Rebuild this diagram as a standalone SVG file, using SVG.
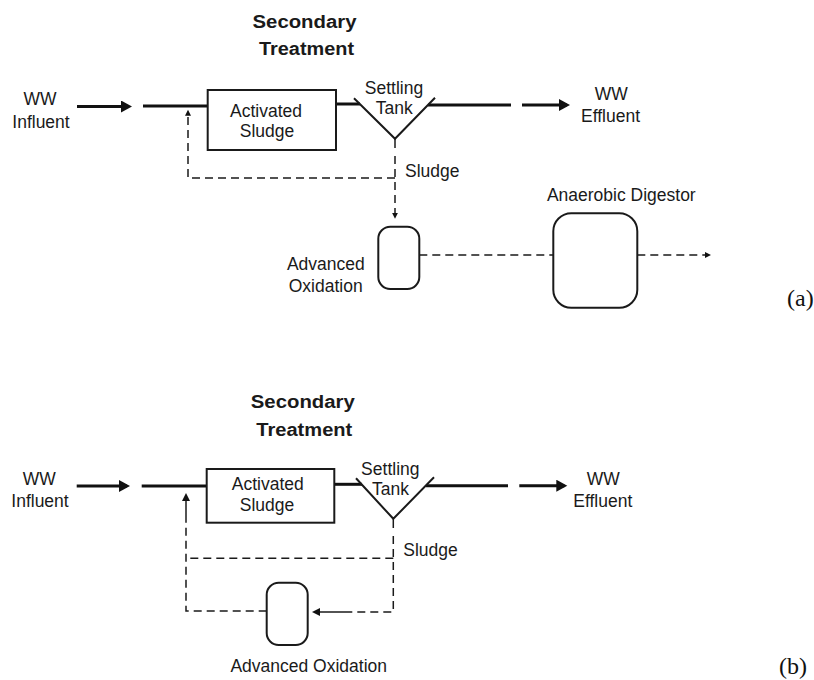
<svg xmlns="http://www.w3.org/2000/svg" width="814" height="680" viewBox="0 0 814 680">
<style>
.t{font-family:"Liberation Sans",Arial,sans-serif;font-size:17.5px;fill:#1a1a1a;text-anchor:middle}
.s{text-anchor:start}
.h{font-weight:bold;font-size:18px}
.lab{font-family:"Liberation Serif","Times New Roman",serif;font-size:24px;fill:#111}
.box{fill:#fff;stroke:#1a1a1a;stroke-width:2}
.tank{fill:none;stroke:#1a1a1a;stroke-width:2}
.thick{fill:none;stroke:#111;stroke-width:3}
.dash{fill:none;stroke:#1a1a1a;stroke-width:1.5;stroke-dasharray:8 5}
.thin{fill:none;stroke:#1a1a1a;stroke-width:1.5}
</style>
<defs>
<marker id="big" markerUnits="userSpaceOnUse" markerWidth="12" markerHeight="12" refX="8" refY="6" orient="auto"><path d="M0,0 L11,6 L0,12 z" fill="#111"/></marker>
<marker id="med" markerUnits="userSpaceOnUse" markerWidth="9" markerHeight="8" refX="6" refY="4" orient="auto"><path d="M0,0 L8,4 L0,8 z" fill="#111"/></marker>
<marker id="sm" markerUnits="userSpaceOnUse" markerWidth="7" markerHeight="6" refX="4" refY="3" orient="auto"><path d="M0,0 L6,3 L0,6 z" fill="#111"/></marker>
</defs>
<rect width="814" height="680" fill="#fff"/>

<g id="connectors">
  <!-- panel a -->
  <line class="thick" x1="77" y1="106.5" x2="129" y2="106.5" marker-end="url(#big)"/>
  <line class="thick" x1="143" y1="106" x2="208" y2="106"/>
  <line class="thick" x1="336" y1="104" x2="360" y2="104"/>
  <line class="thick" x1="428" y1="105" x2="511" y2="105"/>
  <line class="thick" x1="522" y1="105" x2="567" y2="105" marker-end="url(#big)"/>
  <line class="thin" x1="395" y1="139" x2="395" y2="148"/>
  <path class="dash" d="M395,156 V216.7" marker-end="url(#sm)"/>
  <path class="dash" d="M395,178 H188 V111.7" marker-end="url(#sm)"/>
  <line class="dash" x1="419.3" y1="255" x2="553.3" y2="255"/>
  <path class="dash" d="M637.3,255 H709" marker-end="url(#sm)"/>
  <!-- panel b -->
  <line class="thick" x1="76.7" y1="486" x2="127" y2="486" marker-end="url(#big)"/>
  <line class="thick" x1="141.7" y1="486" x2="207" y2="486"/>
  <line class="thick" x1="334.3" y1="484.3" x2="362" y2="484.3"/>
  <line class="thick" x1="426" y1="485.7" x2="508" y2="485.7"/>
  <line class="thick" x1="519.3" y1="485.7" x2="564.3" y2="485.7" marker-end="url(#big)"/>
  <line class="thin" x1="393.3" y1="519" x2="393.3" y2="528"/>
  <path class="dash" d="M393.3,536 V612 H350"/>
  <line class="thin" x1="350" y1="612" x2="314" y2="612" marker-end="url(#med)"/>
  <path class="dash" d="M393.3,558.3 H186"/>
  <path class="dash" d="M266.7,611 H186 V522"/>
  <line class="thin" x1="186" y1="522" x2="186" y2="495" marker-end="url(#med)"/>
</g>

<g id="title-a">
  <text class="t h" x="304.5" y="28.3" textLength="104" lengthAdjust="spacingAndGlyphs">Secondary</text>
  <text class="t h" x="306.5" y="55" textLength="95" lengthAdjust="spacingAndGlyphs">Treatment</text>
</g>
<g id="influent-a">
  <text class="t" x="40" y="105">WW</text>
  <text class="t" x="41" y="128.3">Influent</text>
</g>
<g id="activated-sludge-a">
  <rect class="box" x="207.7" y="90" width="128.3" height="60"/>
  <text class="t" x="266" y="116.5">Activated</text>
  <text class="t" x="267" y="136.5">Sludge</text>
</g>
<g id="settling-tank-a">
  <polyline class="tank" points="354,98.3 395,138.8 435,97.7"/>
  <text class="t" x="394" y="94">Settling</text>
  <text class="t" x="394.3" y="114.3">Tank</text>
</g>
<g id="effluent-a">
  <text class="t" x="611.3" y="100">WW</text>
  <text class="t" x="610.5" y="122.3">Effluent</text>
</g>
<g id="sludge-label-a">
  <text class="t s" x="405" y="176.7">Sludge</text>
</g>
<g id="advanced-oxidation-a">
  <rect class="box" x="378.3" y="226.7" width="41" height="62.3" rx="12"/>
  <text class="t" x="325.8" y="270">Advanced</text>
  <text class="t" x="325.7" y="291.7">Oxidation</text>
</g>
<g id="anaerobic-digestor-a">
  <rect class="box" x="553.3" y="213.3" width="84" height="94.4" rx="18"/>
  <text class="t" x="621.3" y="200.7">Anaerobic Digestor</text>
</g>
<g id="label-a">
  <text class="lab" x="787" y="306">(a)</text>
</g>

<g id="title-b">
  <text class="t h" x="302.8" y="408.3" textLength="104" lengthAdjust="spacingAndGlyphs">Secondary</text>
  <text class="t h" x="304.3" y="436" textLength="96" lengthAdjust="spacingAndGlyphs">Treatment</text>
</g>
<g id="influent-b">
  <text class="t" x="39.2" y="485">WW</text>
  <text class="t" x="40" y="507.3">Influent</text>
</g>
<g id="activated-sludge-b">
  <rect class="box" x="206.7" y="469" width="127.6" height="53.7"/>
  <text class="t" x="267.8" y="490">Activated</text>
  <text class="t" x="267" y="511">Sludge</text>
</g>
<g id="settling-tank-b">
  <polyline class="tank" points="356,478.3 393.3,518.8 434,477.3"/>
  <text class="t" x="390.3" y="475">Settling</text>
  <text class="t" x="390.5" y="495">Tank</text>
</g>
<g id="effluent-b">
  <text class="t" x="603.3" y="485">WW</text>
  <text class="t" x="602.8" y="506.7">Effluent</text>
</g>
<g id="sludge-label-b">
  <text class="t s" x="403.3" y="556">Sludge</text>
</g>
<g id="advanced-oxidation-b">
  <rect class="box" x="266.7" y="582.7" width="41" height="62.3" rx="12"/>
  <text class="t" x="308.7" y="671.7">Advanced Oxidation</text>
</g>
<g id="label-b">
  <text class="lab" x="779" y="674">(b)</text>
</g>
</svg>
